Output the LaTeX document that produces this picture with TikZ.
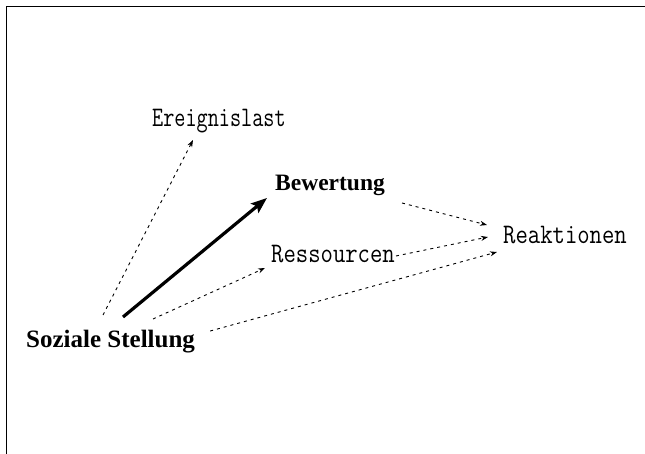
\documentclass[tikz,border=0pt]{standalone}
\usepackage{fontspec}
\setmainfont{Liberation Serif}
\usetikzlibrary{arrows.meta,calc}
% light, tall typewriter lettering for the secondary labels
\newcommand\tallmono[2]{\scalebox{#1}[1.18]{#2}}
\begin{document}
\begin{tikzpicture}[x=1pt,y=1pt,
  boldlabel/.style={inner sep=0pt, anchor=base west, font=\bfseries\fontsize{25}{30}\selectfont},
  lightlabel/.style={inner sep=0pt, anchor=base west, font=\ttfamily\fontsize{24}{28}\selectfont},
  weak/.style={line width=0.9pt, dash pattern=on 3pt off 4pt, -{Stealth[length=7pt,width=5pt]}},
  strong/.style={line width=3.2pt, -{Stealth[length=16pt,width=12pt,inset=3pt]}},
  frame/.style={line width=1.2pt}]
\useasboundingbox (0,0) rectangle (645,-454);
\draw[frame] (6.5,-454) -- (6.5,-6.5) -- (645,-6.5);

% labels
\node[boldlabel] (soz) at (26,-347) {Soziale Stellung};
\node[boldlabel, font=\bfseries\fontsize{23.5}{28}\selectfont] (bew) at (275,-191) {Bewertung};
\node[lightlabel] (ere) at (152,-127) {\tallmono{0.9}{Ereignislast}};
\node[lightlabel] (res) at (271,-263) {\tallmono{1}{Ressourcen}};
\node[lightlabel] (rea) at (503,-244) {\tallmono{1}{Reaktionen}};

% influences of social position
\draw[weak] ($(soz.base west)+(77,32)$) -- ($(ere.base west)+(41,-13)$);
\draw[strong] ($(soz.base west)+(97,30)$) -- ($(bew.base west)+(-8,-7)$);
\draw[weak] ($(soz.base west)+(127,28)$) -- ($(res.base west)+(-6,-5)$);
\draw[weak] ($(soz.base east)+(15,16)$) -- ($(rea.base west)+(-6,-8)$);

% paths into the reactions
\draw[weak] ($(bew.base east)+(17,-12)$) -- ($(rea.base west)+(-16,19)$);
\draw[weak] ($(res.base east)+(1,7)$) -- ($(rea.base west)+(-15,7)$);
\end{tikzpicture}
\end{document}
